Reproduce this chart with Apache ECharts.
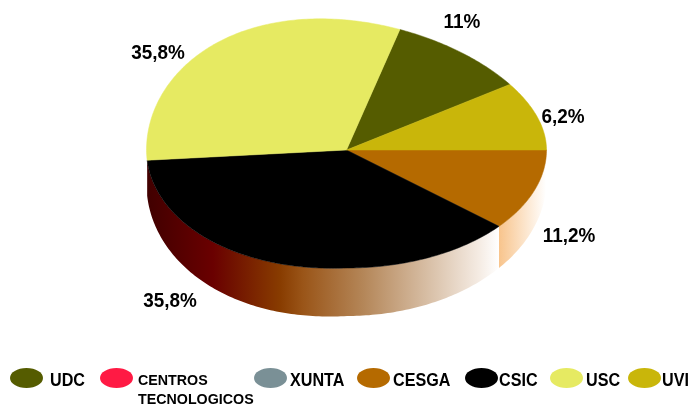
<!DOCTYPE html>
<html><head><meta charset="utf-8">
<style>html,body{margin:0;padding:0;background:#fff}#c{width:691px;height:407px}</style>
<script src="https://cdn.jsdelivr.net/npm/echarts@6/dist/echarts.min.js"></script>
</head><body><div id="c"></div>
<script>
// Legend order
const categories = ['UDC','CENTROS TECNOLOGICOS','XUNTA','CESGA','CSIC','USC','UVI'];
// Share of the pie each slice occupies as drawn in the picture (%)
const drawnShares = [10.9,0,0,11.2,37.5,30.6,9.8];
// Printed value labels
const valueLabels = ['11%','','','11,2%','35,8%','35,8%','6,2%'];
const sliceColors = ['#555c00','#ff1a44','#7a9096','#b56a00','#000000','#e6ea62','#c9b60a'];
// Counter-clockwise drawing order starting from 3 o'clock
const stackOrder = ['UVI','UDC','USC','CSIC','CESGA'];

const cx=346.5, cy=150, rx=200;
function ryAt(a){
  return Math.sin(a)>=0 ? 126-18*Math.cos(a)+4*Math.sin(a) : 118+8*Math.max(0,-Math.cos(a));
}
function depthAt(a){return 30+18*Math.abs(Math.sin(a))+4*Math.max(0,-Math.cos(a));}
const walls = {
  CSIC:{x:146,x2:499,stops:[[0,'#400000'],[0.19,'#6a0000'],[0.24,'#701000'],[0.38,'#883c00'],[0.445,'#9a5518'],[0.615,'#b48658'],[0.8,'#d8bfa6'],[0.945,'#f5ece4'],[1,'#ffffff']]},
  CESGA:{x:499,x2:546,stops:[[0,'#f8c48c'],[1,'#ffffff']]}
};
const texts = [
 {t:valueLabels[5],x:158,y:53},{t:valueLabels[0],x:462,y:22},{t:valueLabels[6],x:563,y:117},
 {t:valueLabels[3],x:569,y:236},{t:valueLabels[4],x:170,y:301}
];
const legendX = [10,100,254,357,465,550,628];
const legendTextX = [50,138,290,393,499,586,662];
const legendLines = [['UDC'],['CENTROS','TECNOLOGICOS'],['XUNTA'],['CESGA'],['CSIC'],['USC'],['UVI']];

function startOf(name){
  let s=0;
  for(const n of stackOrder){ if(n===name) break; s+=drawnShares[categories.indexOf(n)]; }
  return s*3.6*Math.PI/180;
}
function pt(a){return [cx+rx*Math.cos(a), cy-ryAt(a)*Math.sin(a)];}
function ptLow(a){return [cx+rx*Math.cos(a), cy-ryAt(a)*Math.sin(a)+depthAt(a)];}
function render(name){
  return function(params,api){
    const share=api.value(0);
    if(!share) return {type:'group',children:[]};
    const a0=startOf(name), a1=a0+share*3.6*Math.PI/180;
    const arc=[]; const n=Math.max(12,Math.round(share*4));
    for(let i=0;i<=n;i++) arc.push(a0+(a1-a0)*i/n);
    const kids=[];
    const w=walls[name];
    if(w){
      kids.push({type:'polygon',shape:{points:arc.map(pt).concat(arc.map(ptLow).reverse())},style:{
        fill:{type:'linear',x:w.x,y:0,x2:w.x2,y2:0,global:true,
          colorStops:w.stops.map(s=>({offset:s[0],color:s[1]}))}}});
    }
    kids.push({type:'polygon',shape:{points:[[cx,cy]].concat(arc.map(pt))},
      style:{fill:api.visual('color'),stroke:api.visual('color'),lineWidth:0.5}});
    return {type:'group',children:kids};
  };
}
const ellipse='path://M0,50C0,22 22,0 50,0C78,0 100,22 100,50C100,78 78,100 50,100C22,100 0,78 0,50Z';
const order={CESGA:1,CSIC:2,USC:3,UVI:3,UDC:3};
const valueGraphics=texts.map(o=>({type:'text',x:o.x,y:o.y,z:10,scaleX:0.9,style:{text:o.t,fill:'#000',align:'center',verticalAlign:'middle',
    font:'bold 21px "Liberation Sans"'}}));
const legendGraphics=[];
legendLines.forEach((lines,i)=>lines.forEach((t,k)=>{
  const small=lines.length>1;
  legendGraphics.push({type:'text',x:legendTextX[i],y:381+k*19,z:10,scaleX:small?0.92:0.85,style:{text:t,fill:'#000',align:'left',verticalAlign:'middle',
    font:'bold '+(small?15.5:19)+'px "Liberation Sans"'}});
}));
const chart=echarts.init(document.getElementById('c'),null,{renderer:'canvas'});
chart.setOption({
  animation:false,
  backgroundColor:'#fff',
  legend:categories.map((c,i)=>({
    data:[c],left:legendX[i],top:368,itemWidth:33,itemHeight:20,icon:ellipse,symbolKeepAspect:false,selectedMode:false,padding:0,itemGap:0,
    formatter:()=>'',textStyle:{fontSize:1}
  })),
  series:categories.map((c,i)=>({
    type:'custom',name:c,coordinateSystem:'none',silent:true,z:order[c]||1,
    itemStyle:{color:sliceColors[i]},
    data:[[drawnShares[i]]],
    renderItem:render(c)
  })),
  graphic:valueGraphics.concat(legendGraphics)
});
</script></body></html>
